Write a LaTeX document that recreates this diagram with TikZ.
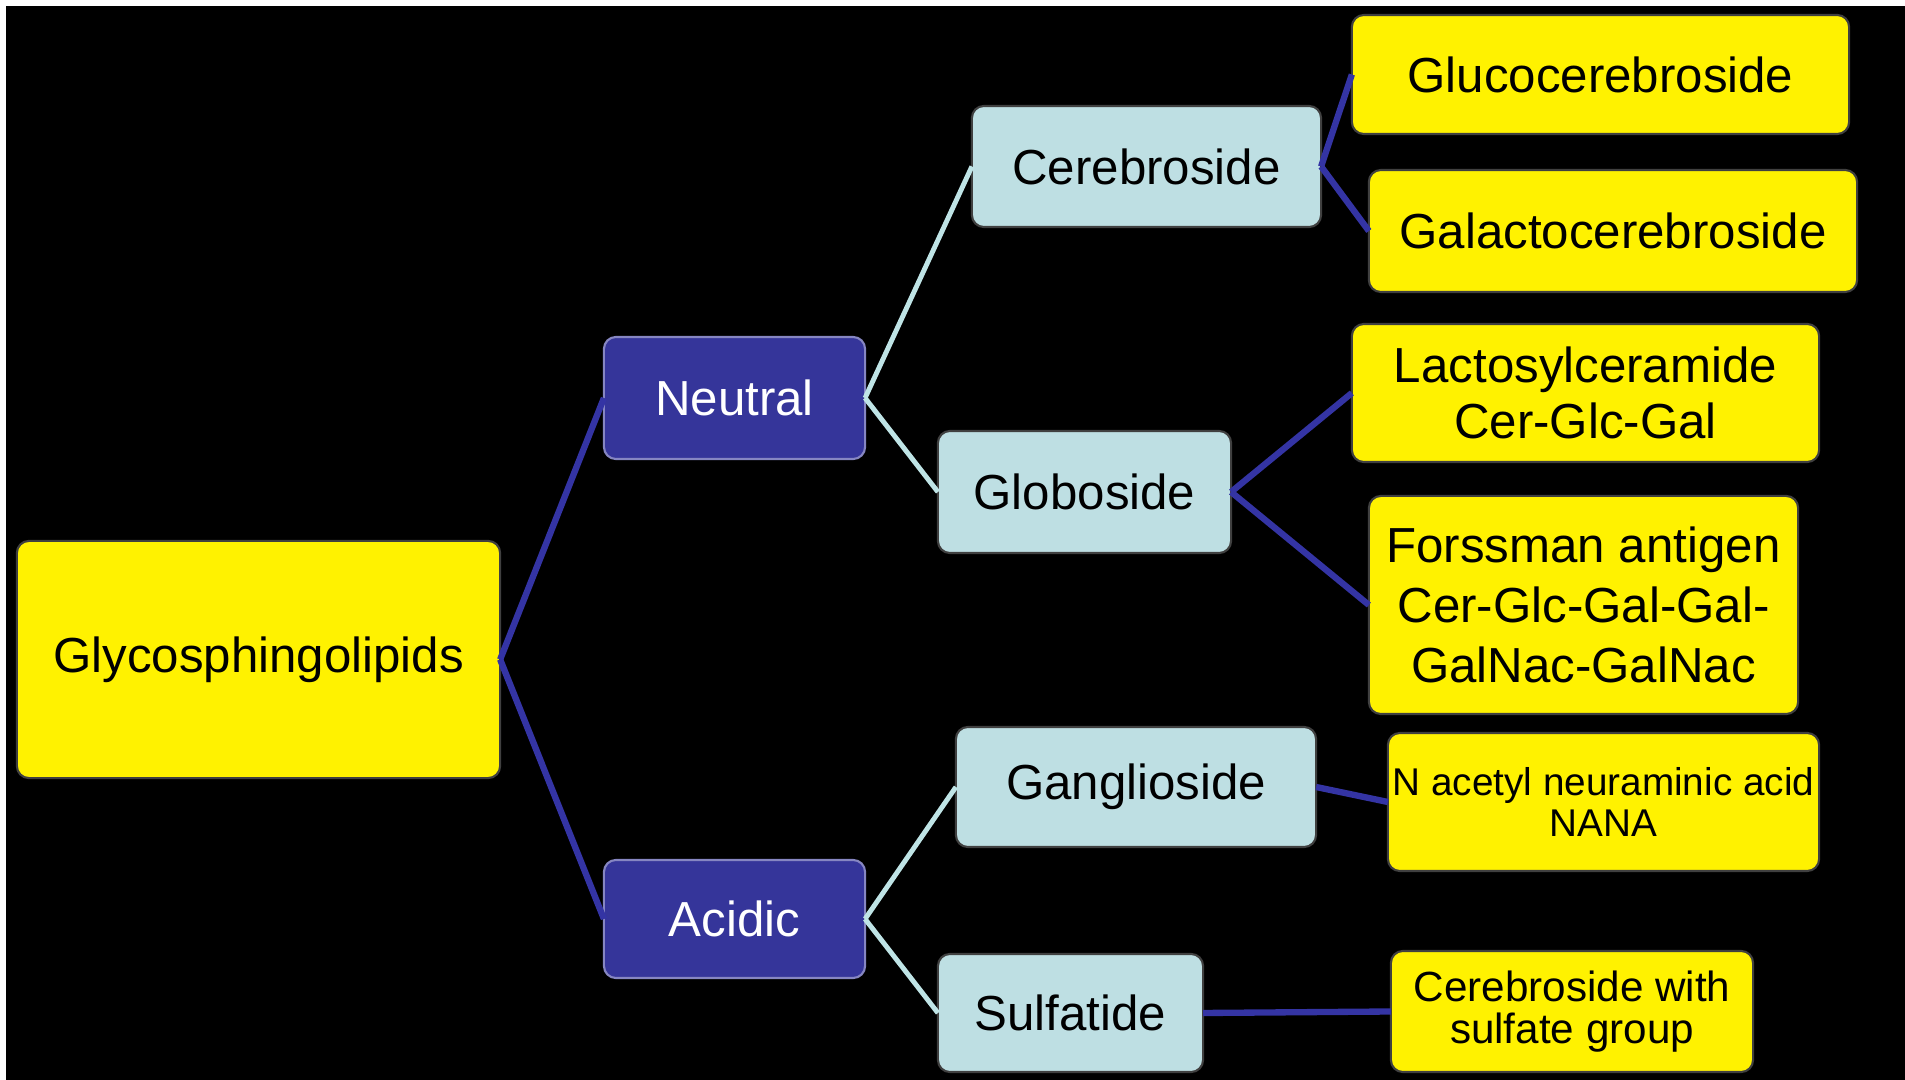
\documentclass[tikz,border=0pt]{standalone}
\usepackage{fontspec}
\setmainfont{Liberation Sans}
\usetikzlibrary{positioning}
\definecolor{navy}{HTML}{35359A}
\definecolor{paleblue}{HTML}{BEDFE3}
\definecolor{lineblue}{HTML}{3434A4}
\definecolor{linepale}{HTML}{BFE4E6}
\begin{document}
\begin{tikzpicture}[x=0.01cm,y=-0.01cm,align=center]
\tikzstyle{box}=[rectangle,rounded corners=0.12cm,draw=black!75,line width=0.6pt,inner sep=0pt,outer sep=0pt,font=\fontsize{14}{16}\selectfont]
\tikzstyle{leaf}=[box,fill=yellow,text=black]
\tikzstyle{group}=[box,fill=navy,draw=navy!60!white,text=white]
\tikzstyle{kind}=[box,fill=paleblue,text=black]
\tikzstyle{dark}=[-,line width=1.8pt,lineblue]
\tikzstyle{pale}=[-,line width=1.4pt,linepale]

\fill[white] (0,0) rectangle (1905,1080);
\fill[black] (6,6) rectangle (1905,1080);

\node[leaf, minimum width=4.83cm, minimum height=2.37cm] (gsl) at (258.5,659.5) {Glycosphingolipids};

\node[group, minimum width=2.61cm, minimum height=1.22cm] (neu) at (734.5,398) {Neutral};
\node[group, minimum width=2.61cm, minimum height=1.18cm] (aci) at (734.5,919) {Acidic};

\node[kind, minimum width=3.49cm, minimum height=1.21cm] (cer) at (1146.5,166.5) {Cerebroside};
\node[kind, minimum width=2.93cm, minimum height=1.22cm] (glo) at (1084.5,492) {Globoside};
\node[kind, minimum width=3.60cm, minimum height=1.20cm] (gan) at (1136,787) {Ganglioside};
\node[kind, minimum width=2.65cm, minimum height=1.18cm] (sul) at (1070.5,1013) {Sulfatide};

\node[leaf, minimum width=4.97cm, minimum height=1.19cm] (gluc) at (1600.5,74.5) {Glucocerebroside};
\node[leaf, minimum width=4.88cm, minimum height=1.22cm] (galc) at (1613,231) {Galactocerebroside};
\node[leaf, minimum width=4.67cm, minimum height=1.38cm] (lac) at (1585.5,393) {Lactosylceramide\\Cer-Glc-Gal};
\node[leaf, minimum width=4.29cm, minimum height=2.18cm, font=\fontsize{14}{17}\selectfont] (fors) at (1583.5,605) {Forssman antigen\\Cer-Glc-Gal-Gal-\\GalNac-GalNac};
\node[leaf, minimum width=4.31cm, minimum height=1.38cm, font=\fontsize{11}{11.5}\selectfont] (nana) at (1603.5,802) {N acetyl neuraminic acid\\NANA};
\node[leaf, minimum width=3.62cm, minimum height=1.21cm, font=\fontsize{12}{12}\selectfont] (sulg) at (1572,1011.5) {Cerebroside with\\sulfate group};

\draw[dark] (gsl.east) -- (neu.west);
\draw[dark] (gsl.east) -- (aci.west);
\draw[pale] (neu.east) -- (cer.west);
\draw[pale] (neu.east) -- (glo.west);
\draw[pale] (aci.east) -- (gan.west);
\draw[pale] (aci.east) -- (sul.west);
\draw[dark] (cer.east) -- (gluc.west);
\draw[dark] (cer.east) -- (galc.west);
\draw[dark] (glo.east) -- (lac.west);
\draw[dark] (glo.east) -- (fors.west);
\draw[dark] (gan.east) -- (nana.west);
\draw[dark] (sul.east) -- (sulg.west);
\end{tikzpicture}
\end{document}
